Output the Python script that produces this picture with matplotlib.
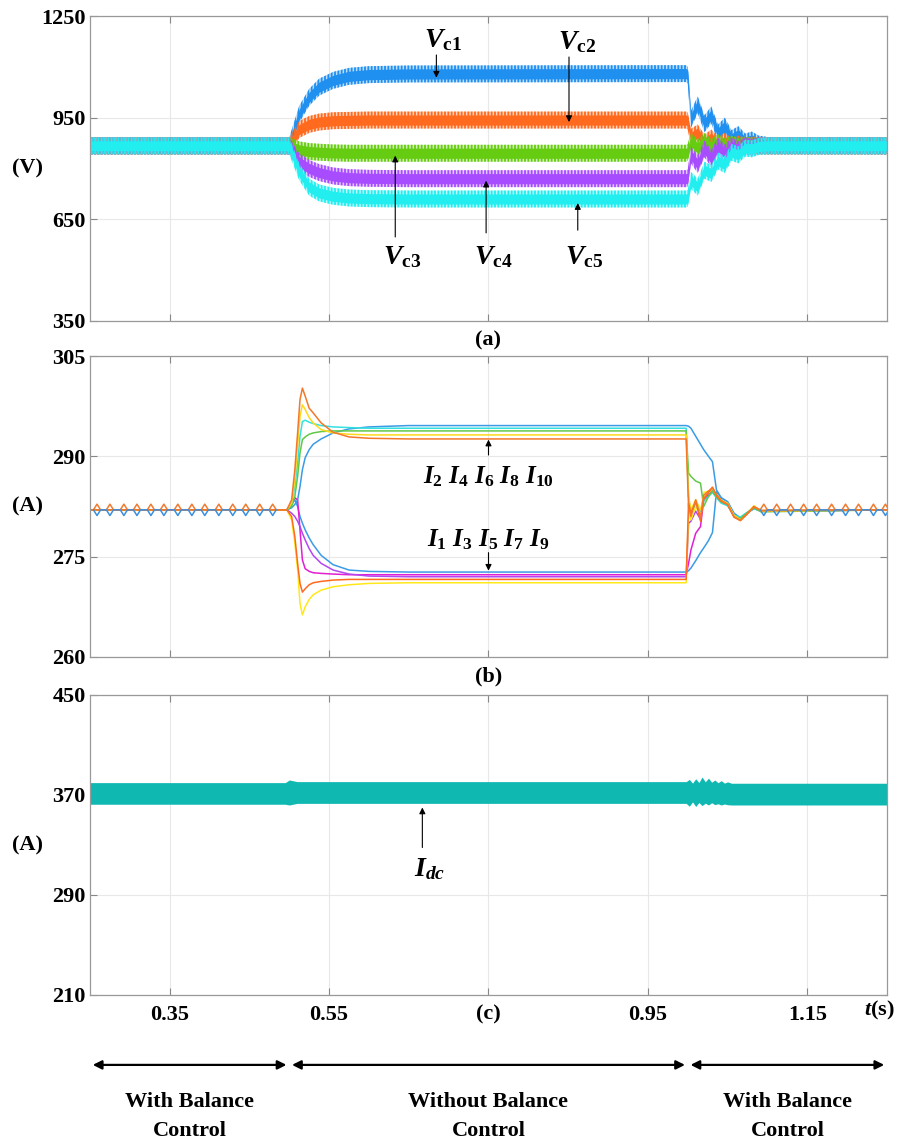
import numpy as np
import matplotlib.pyplot as plt
from matplotlib.colors import to_rgba
from matplotlib.transforms import blended_transform_factory

plt.rcParams['font.family'] = ['Liberation Serif', 'DejaVu Serif']
plt.rcParams['font.weight'] = 'bold'
plt.rcParams['mathtext.fontset'] = 'custom'
plt.rcParams['mathtext.it'] = 'Liberation Serif:italic:bold'
plt.rcParams['mathtext.rm'] = 'Liberation Serif:bold'
plt.rcParams['mathtext.bf'] = 'Liberation Serif:bold'
plt.rcParams['hatch.linewidth'] = 1.3

# ---------------- (a) capacitor voltages, band centres (V)
t_a = [0.25, 0.50, 0.5125, 0.525, 0.5375, 0.555, 0.575, 0.60, 0.65, 0.998,
       1.000, 1.004, 1.0125, 1.021, 1.0295, 1.038, 1.0465, 1.055, 1.0635,
       1.072, 1.0805, 1.089, 1.10, 1.25]
vc1 = [867, 867, 960, 1010, 1040, 1060, 1072, 1077, 1079, 1080,
       1075, 945, 988, 932, 958, 905, 925, 888, 900, 878, 884, 872, 868, 867]
vc2 = [867, 867, 915, 930, 937, 941, 942, 943, 943, 943,
       940, 892, 905, 875, 890, 868, 880, 865, 872, 866, 869, 867, 867, 867]
vc3 = [867, 867, 855, 850, 848, 846, 845, 845, 845, 845,
       848, 880, 860, 880, 862, 876, 864, 872, 865, 869, 866, 867, 867, 867]
vc4 = [867, 867, 820, 800, 788, 778, 773, 771, 770, 770,
       772, 840, 812, 858, 830, 866, 845, 866, 855, 867, 862, 867, 867, 867]
vc5 = [867, 867, 790, 745, 728, 718, 713, 711, 710, 710,
       712, 765, 745, 795, 785, 822, 812, 848, 840, 860, 858, 865, 867, 867]
vc_ripple = 25
vc_colors = ['#1f8ff0', '#ff6a1e', '#66cc11', '#a84cff', '#22eef0']

# ---------------- (b) arm currents (A)
t_b = [0.25, 0.497, 0.503, 0.507, 0.5105, 0.5135, 0.5165, 0.52, 0.525, 0.53,
       0.54, 0.555, 0.575, 0.60, 0.65, 0.998, 1.001, 1.004, 1.010, 1.016,
       1.020, 1.026, 1.031, 1.036, 1.042, 1.050, 1.058, 1.066, 1.074, 1.083,
       1.092, 1.25]
i1 = [282, 282, 282.8, 283.5, 282.5, 281, 280, 279, 277.8, 276.8, 275.2, 273.8,
      273.0, 272.8, 272.7, 272.7, 272.9, 273.3, 274.4, 275.6, 276.3, 277.4,
      278.6, 284.7, 283.8, 283.2, 281.4, 280.8, 281.5, 282.2, 281.8, 282]
i2 = [282, 282, 282.3, 282.8, 283.5, 285.5, 288, 289.8, 291, 291.8, 292.6, 293.5,
      294.1, 294.4, 294.6, 294.6, 294.5, 294.2, 293, 291.8, 291, 290, 289.2,
      285, 283.8, 283.2, 281.5, 280.8, 281.5, 282.2, 281.8, 282]
i3 = [282, 282, 283, 283.8, 283.5, 279, 274.5, 273.2, 272.8, 272.6, 272.5, 272.4,
      272.3, 272.3, 272.3, 272.3, 274, 276, 278.5, 279.5, 283.5, 284.2, 284.8,
      283.9, 283.1, 282.8, 281.1, 280.6, 281.4, 282.3, 281.8, 282]
i4 = [282, 282, 283, 285.5, 289, 293, 295.2, 295.4, 295.1, 294.9, 294.6, 294.4,
      294.3, 294.2, 294.2, 294.2, 284, 281.5, 283, 281.8, 283.3, 284, 284.6,
      283.8, 283, 282.6, 281.2, 280.9, 281.6, 282.2, 281.8, 282]
i5 = [282, 282, 281.5, 281, 280.3, 279.5, 278.5, 277.5, 276.2, 275.2, 274, 273,
      272.4, 272.1, 272.0, 272.0, 280, 280.3, 281.8, 280.6, 283.8, 284.5, 285,
      284, 283.3, 282.9, 281.2, 280.5, 281.4, 282.4, 281.8, 282]
i6 = [282, 282, 282.5, 284, 287, 290.5, 292.5, 292.9, 293.3, 293.5, 293.7, 293.8,
      293.8, 293.8, 293.8, 293.8, 287.5, 287, 286.3, 286, 282.5, 284, 284.8,
      283.9, 283.2, 282.8, 281, 280.7, 281.5, 282.3, 281.7, 282]
i7 = [282, 282, 281, 278, 274, 271, 269.7, 270.2, 270.8, 271.1, 271.3, 271.5,
      271.6, 271.6, 271.6, 271.6, 283, 281.5, 283.3, 280.3, 283.6, 284.6, 285.4,
      284.1, 283.3, 282.8, 280.9, 280.4, 281.3, 282.5, 281.9, 282]
i8 = [282, 282, 283, 286.5, 291.5, 296, 297.7, 297, 295.8, 295, 294, 293.5,
      293.3, 293.2, 293.2, 293.2, 284, 282, 283.5, 282, 284, 284.5, 285.2,
      284.2, 283.4, 283, 281.2, 280.5, 281.3, 282.6, 281.8, 282]
i9 = [282, 282, 280.5, 277, 273, 268, 266.3, 267.5, 268.6, 269.3, 270, 270.5,
      270.8, 271.0, 271.1, 271.1, 281.5, 280.5, 282.5, 281, 284.6, 284.8, 285.2,
      284.3, 283.5, 283, 281.3, 280.6, 281.5, 282.5, 281.9, 282]
i10 = [282, 282, 283.5, 288, 293.5, 298.5, 300.2, 299, 297.2, 296.5, 295, 293.6,
       292.9, 292.7, 292.6, 292.6, 282.5, 281, 283.5, 280.8, 284.2, 284.8, 285.3,
       284.3, 283.4, 282.8, 281, 280.4, 281.4, 282.4, 281.9, 282]
i_series = [i1, i3, i5, i9, i2, i4, i6, i8, i7, i10]
i_colors = ['#3a9be6', '#e21ed2', '#b347f0', '#ffe81a',
            '#3a9be6', '#35e0e0', '#62c848', '#ffd81a', '#ff6a1e', '#f2782a']
i_mean = 282
# oscillation peaks while balance control is active
diamond_t_first = [0.2588, 0.2750, 0.2925, 0.3089, 0.3264, 0.3427, 0.3602,
                   0.3778, 0.3940, 0.4116, 0.4291, 0.4454, 0.4629, 0.4792]
diamond_t_last = [1.0954, 1.1116, 1.1290, 1.1454, 1.1617, 1.1805, 1.1980,
                  1.2143, 1.2330, 1.2480]
diamond_amp = 0.85

# ---------------- (c) dc current band edges (A)
t_c = [0.25, 0.495, 0.50, 0.51, 0.998, 1.002, 1.006, 1.010, 1.014, 1.018,
       1.022, 1.026, 1.030, 1.034, 1.038, 1.042, 1.046, 1.050, 1.055, 1.25]
idc_top = [379.9, 379.9, 382.0, 380.7, 380.7, 382.5, 379.5, 383.0, 380.0, 384.4,
           380.5, 383.5, 380.2, 382.0, 379.8, 381.5, 379.5, 380.5, 379.4, 379.4]
idc_bot = [362.6, 362.6, 362.0, 363.3, 363.3, 361.0, 364.5, 360.8, 364.0, 361.5,
           363.5, 362.0, 363.8, 362.3, 363.0, 362.0, 362.8, 362.2, 362.0, 362.0]

x_ticks = [0.35, 0.55, 0.75, 0.95, 1.15]
phase_edges = [0.25, 0.5, 1.0, 1.25]
phase_labels = ['With Balance\nControl', 'Without Balance\nControl',
                'With Balance\nControl']

fig = plt.figure(figsize=(9.02, 11.41), dpi=100)
W, H = 902, 1141


def box(top, bottom):
    return [90 / W, 1 - bottom / H, 797 / W, (bottom - top) / H]


ax_a = fig.add_axes(box(16, 321))
ax_b = fig.add_axes(box(356, 657))
ax_c = fig.add_axes(box(695, 995))

for ax, lab in zip((ax_a, ax_b, ax_c), ('(a)', '(b)', '(c)')):
    ax.set_xlim(0.25, 1.25)
    ax.set_xticks(x_ticks)
    if lab == '(c)':
        ax.set_xticklabels(['0.35', '0.55', '(c)', '0.95', '1.15'])
    else:
        ax.set_xticklabels(['', '', lab, '', ''])
    ax.grid(True, color='#e8e8e8', lw=0.8)
    ax.set_axisbelow(True)
    ax.tick_params(direction='in', top=True, right=True, length=5, width=0.8,
                   color='#888888', labelsize=16)
    ax.tick_params(axis='x', pad=7)
    ax.tick_params(axis='y', pad=3)
    for s in ax.spines.values():
        s.set_color('#999999')
        s.set_linewidth(0.9)

# (a)  ripple bands: striped fringe + solid core
for v, c in zip([vc1, vc2, vc3, vc4, vc5], vc_colors):
    v = np.array(v)
    ax_a.fill_between(t_a, v - vc_ripple, v + vc_ripple,
                      facecolor=to_rgba(c, 0.3), edgecolor=c, hatch='|||||', lw=0)
    ax_a.fill_between(t_a, v - vc_ripple * 0.6, v + vc_ripple * 0.6, color=c, lw=0)
ax_a.set_ylim(350, 1250)
ax_a.set_yticks([350, 650, 950, 1250])
ax_a.text(-0.079, 0.5, '(V)', transform=ax_a.transAxes, ha='center',
          va='center', fontsize=16)

arrow = dict(arrowstyle='-|>', color='k', lw=0.8, mutation_scale=9,
             shrinkA=0, shrinkB=0)
a_labels = [  # name, text x, text y, arrow x, arrow from, arrow to
    ('c1', 0.693, 1180, 0.6846, 1135, 1068),
    ('c2', 0.861, 1173, 0.851, 1129, 937),
    ('c3', 0.642, 538, 0.633, 598, 838),
    ('c4', 0.756, 538, 0.747, 610, 764),
    ('c5', 0.870, 538, 0.862, 618, 698),
]
for name, tx, ty, ax_x, y0, y1 in a_labels:
    ax_a.text(tx, ty, r'$V_{\mathrm{%s}}$' % name, ha='center', va='center',
              fontsize=20)
    ax_a.annotate('', xy=(ax_x, y1), xytext=(ax_x, y0), arrowprops=arrow)

# (b)
for v, c in zip(i_series, i_colors):
    ax_b.plot(t_b, v, color=c, lw=1.1)
d = 0.0045
for group in (diamond_t_first, diamond_t_last):
    for sign, c in [(1, '#f07a30'), (-1, '#3a8fe0')]:
        xs, ys = [], []
        for tp in group:
            xs += [tp - d, tp, tp + d]
            ys += [i_mean, i_mean + sign * diamond_amp, i_mean]
        ax_b.plot(xs, ys, color=c, lw=1.1)
ax_b.set_ylim(260, 305)
ax_b.set_yticks([260, 275, 290, 305])
ax_b.text(-0.079, 0.5, '(A)', transform=ax_b.transAxes, ha='center',
          va='center', fontsize=16)
ax_b.text(0.75, 286.9, r'$I_2\ I_4\ I_6\ I_8\ I_{10}$', ha='center',
          va='center', fontsize=18)
ax_b.annotate('', xy=(0.75, 292.5), xytext=(0.75, 290.2), arrowprops=arrow)
ax_b.text(0.75, 277.6, r'$I_1\ I_3\ I_5\ I_7\ I_9$', ha='center',
          va='center', fontsize=18)
ax_b.annotate('', xy=(0.75, 272.9), xytext=(0.75, 275.6), arrowprops=arrow)

# (c)
ax_c.fill_between(t_c, idc_bot, idc_top, color='#10b8b2', lw=0)
ax_c.set_ylim(210, 450)
ax_c.set_yticks([210, 290, 370, 450])
ax_c.text(-0.079, 0.5, '(A)', transform=ax_c.transAxes, ha='center',
          va='center', fontsize=16)
ax_c.text(0.676, 311, r'$I_{dc}$', ha='center', va='center', fontsize=20)
ax_c.annotate('', xy=(0.667, 360), xytext=(0.667, 328), arrowprops=arrow)
ax_c.text(0.991, -0.05, r'$t$(s)', transform=ax_c.transAxes, ha='center',
          va='center', fontsize=16)

tr = blended_transform_factory(ax_c.transData, ax_c.transAxes)
for x0, x1, lab in zip(phase_edges[:-1], phase_edges[1:], phase_labels):
    ax_c.annotate('', xy=(x1, -0.233), xytext=(x0, -0.233),
                  xycoords=tr, textcoords=tr, annotation_clip=False,
                  arrowprops=dict(arrowstyle='<|-|>', color='k', lw=1.6,
                                  mutation_scale=13, shrinkA=2, shrinkB=2))
    ax_c.text((x0 + x1) / 2, -0.405, lab, transform=tr, ha='center',
              va='center', fontsize=16, linespacing=1.55)

fig.savefig('out.png', dpi=100)
